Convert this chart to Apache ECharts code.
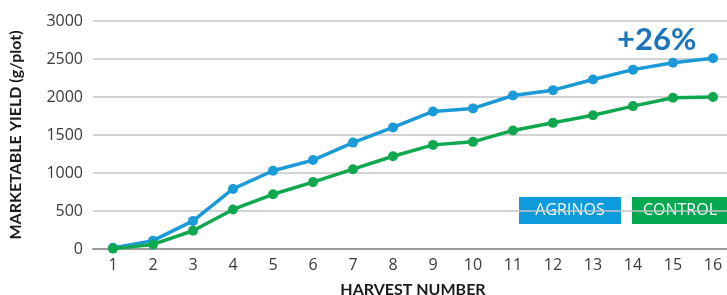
<!DOCTYPE html>
<html>
<head>
<meta charset="utf-8">
<script src="https://cdn.jsdelivr.net/npm/echarts@6/dist/echarts.min.js"></script>
<style>
html, body { margin: 0; padding: 0; background: #fff; }
#chart { width: 727px; height: 295px; }
</style>
</head>
<body>
<div id="chart"></div>
<script>
// harvest numbers
var harvests = ["1", "2", "3", "4", "5", "6", "7", "8", "9", "10", "11", "12", "13", "14", "15", "16"];
// cumulative marketable yield, g/plot
var agrinos = [15, 110, 370, 790, 1030, 1170, 1400, 1600, 1810, 1850, 2020, 2090, 2230, 2360, 2450, 2510];
var control = [5, 60, 240, 520, 720, 880, 1050, 1220, 1370, 1410, 1560, 1660, 1760, 1880, 1990, 2000];
var yTicks = [0, 500, 1000, 1500, 2000, 2500, 3000];

var blue = "#1a9ad9";
var green = "#10a84f";
var labelFont = "Open Sans";

var chart = echarts.init(document.getElementById("chart"));

chart.setOption({
    animation: false,
    grid: { left: 93, top: 21, width: 640, height: 228, outerBoundsMode: "none", containLabel: false },
    xAxis: {
        type: "category",
        data: harvests,
        boundaryGap: true,
        axisLine: { lineStyle: { color: "#9a9a9a", width: 2 } },
        axisTick: { show: false },
        axisLabel: { color: "#3a3a3a", fontFamily: labelFont, fontSize: 16, margin: 8 },
        name: "HARVEST NUMBER",
        nameLocation: "middle",
        nameGap: 33,
        nameTextStyle: { color: "#1a1a1a", fontFamily: "Lato", fontWeight: "bold", fontSize: 16 }
    },
    yAxis: {
        type: "value",
        min: yTicks[0],
        max: yTicks[yTicks.length - 1],
        interval: 500,
        axisLine: { show: false },
        axisTick: { show: false },
        splitLine: { lineStyle: { color: "#c4c4c4", width: 1.5 } },
        axisLabel: {
            color: "#3a3a3a", fontFamily: labelFont, fontSize: 16, margin: 10,
            formatter: function (v) { return String(v); }
        },
        name: "MARKETABLE YIELD (g/plot)",
        nameLocation: "middle",
        nameGap: 69,
        nameRotate: 90,
        nameTextStyle: { color: "#1a1a1a", fontFamily: "Lato", fontWeight: "bold", fontSize: 16 }
    },
    series: [
        {
            name: "AGRINOS",
            type: "line",
            data: agrinos,
            symbol: "circle",
            symbolSize: 10,
            lineStyle: { color: blue, width: 3.5 },
            itemStyle: { color: blue },
            z: 3
        },
        {
            name: "CONTROL",
            type: "line",
            data: control,
            symbol: "circle",
            symbolSize: 10,
            lineStyle: { color: green, width: 3.5 },
            itemStyle: { color: green },
            z: 4
        }
    ],
    graphic: [
        {
            type: "text",
            left: 617,
            top: 24,
            style: { text: "+26%", fill: "#1b75bc", font: "bold 31px Lato" }
        },
        {
            type: "group",
            left: 519,
            top: 197,
            children: [
                { type: "rect", shape: { x: 0, y: 0, width: 102, height: 27 }, style: { fill: "#0e9bdc" } },
                { type: "text", x: 51, y: 13, style: { text: "AGRINOS", fill: "#fff", font: "16px 'Open Sans'", align: "center", verticalAlign: "middle" } }
            ]
        },
        {
            type: "group",
            left: 632,
            top: 197,
            children: [
                { type: "rect", shape: { x: 0, y: 0, width: 95, height: 27 }, style: { fill: "#03a952" } },
                { type: "text", x: 48, y: 13, style: { text: "CONTROL", fill: "#fff", font: "16px 'Open Sans'", align: "center", verticalAlign: "middle" } }
            ]
        }
    ]
});
</script>
</body>
</html>
